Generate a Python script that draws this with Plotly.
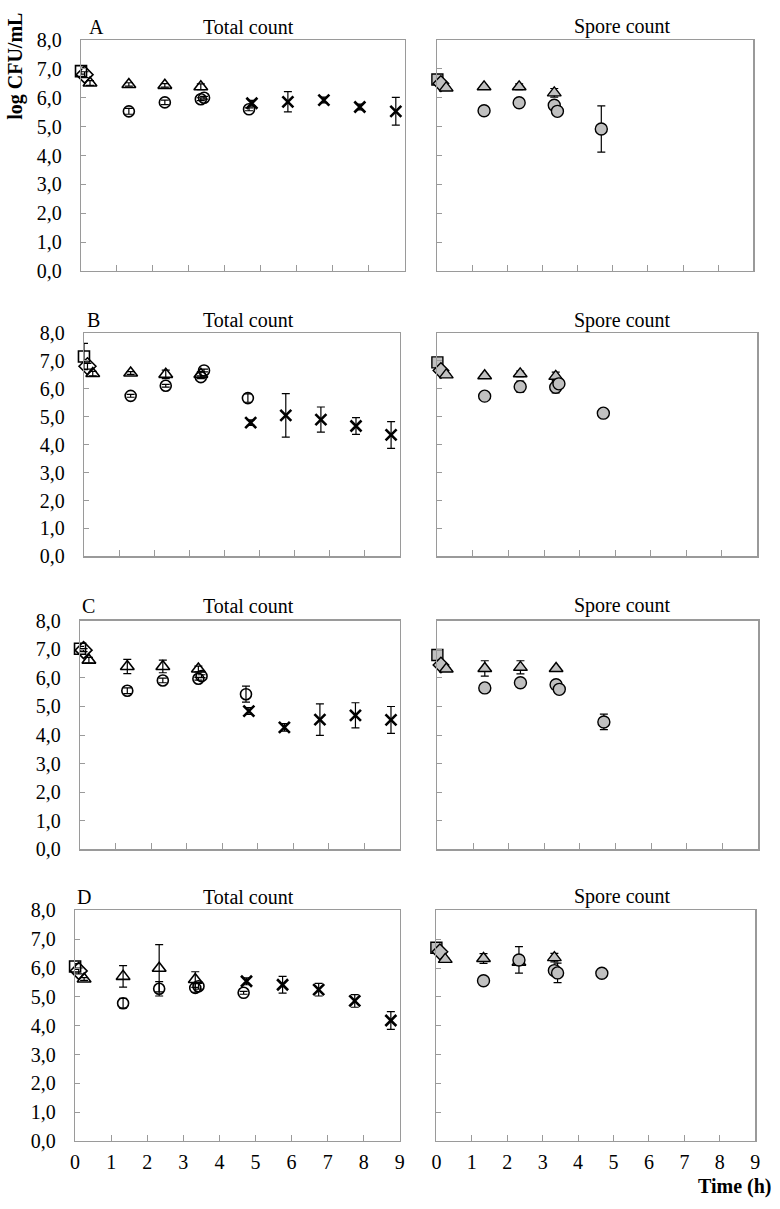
import plotly.graph_objects as go
from plotly.subplots import make_subplots

# ---------------- data ----------------
panels = ["A", "B", "C", "D"]

time_sq = [0.0]
time_di = [0.1]
time_tr = [0.25, 1.33, 2.33, 3.33]
time_ci = [1.33, 2.33, 3.33, 3.42, 4.67]
time_x = [4.75, 5.75, 6.75, 7.75, 8.75]

# Total count (open markers)
tot_sq = {"A": [6.92], "B": [7.16], "C": [7.02], "D": [6.05]}
tot_sq_err = {"A": [0.1], "B": [0.47], "C": [0.08], "D": [0.1]}
tot_di = {"A": [6.80], "B": [6.81], "C": [6.97], "D": [5.90]}
tot_di_err = {"A": [0.1], "B": [0.1], "C": [0.05], "D": [0.1]}
tot_tr = {"A": [6.51, 6.46, 6.43, 6.38], "B": [6.55, 6.57, 6.52, 6.52],
          "C": [6.62, 6.40, 6.40, 6.31], "D": [5.62, 5.71, 5.99, 5.60]}
tot_tr_err = {"A": [0.08, 0.06, 0.06, 0.1], "B": [0.08, 0.05, 0.15, 0.1],
              "C": [0.1, 0.25, 0.22, 0.1], "D": [0.05, 0.37, 0.82, 0.27]}
tot_ci = {"A": [5.53, 5.84, 5.95, 6.00, 5.60], "B": [5.75, 6.11, 6.42, 6.66, 5.67],
          "C": [5.55, 5.91, 5.97, 6.06, 5.43], "D": [4.78, 5.28, 5.31, 5.37, 5.14]}
tot_ci_err = {"A": [0.1, 0.08, 0.05, 0.05, 0.05], "B": [0.05, 0.05, 0.05, 0.05, 0.15],
              "C": [0.1, 0.08, 0.05, 0.05, 0.28], "D": [0.17, 0.25, 0.15, 0.1, 0.05]}
tot_x = {"A": [5.81, 5.86, 5.92, 5.68, 5.53], "B": [4.79, 5.05, 4.90, 4.67, 4.35],
         "C": [4.84, 4.27, 4.54, 4.69, 4.53], "D": [5.54, 5.42, 5.25, 4.86, 4.18]}
tot_x_err = {"A": [0.1, 0.35, 0.1, 0.1, 0.48], "B": [0.1, 0.78, 0.45, 0.3, 0.48],
             "C": [0.12, 0.13, 0.55, 0.44, 0.47], "D": [0.12, 0.29, 0.22, 0.22, 0.31]}

# Spore count (grey filled markers)
spo_sq = {"A": [6.63], "B": [6.95], "C": [6.80], "D": [6.70]}
spo_di = {"A": [6.49], "B": [6.66], "C": [6.45], "D": [6.56]}
spo_tr = {"A": [6.34, 6.38, 6.38, 6.17], "B": [6.50, 6.47, 6.54, 6.45],
          "C": [6.31, 6.33, 6.37, 6.33], "D": [6.30, 6.33, 6.20, 6.36]}
spo_tr_err = {"A": [0.05, 0.05, 0.1, 0.15], "B": [0.05, 0.05, 0.1, 0.15],
              "C": [0.05, 0.27, 0.23, 0.05], "D": [0.05, 0.17, 0.1, 0.15]}
spo_ci = {"A": [5.55, 5.83, 5.74, 5.53, 4.92], "B": [5.74, 6.08, 6.06, 6.18, 5.13],
          "C": [5.65, 5.83, 5.76, 5.60, 4.46], "D": [5.56, 6.28, 5.91, 5.83, 5.82]}
spo_ci_err = {"A": [0.05, 0.05, 0.05, 0.05, 0.8], "B": [0.05, 0.2, 0.2, 0.1, 0.05],
              "C": [0.05, 0.05, 0.05, 0.05, 0.27], "D": [0.05, 0.46, 0.05, 0.34, 0.05]}

y_ticks = [0, 1, 2, 3, 4, 5, 6, 7, 8]
y_tick_labels = ["0,0", "1,0", "2,0", "3,0", "4,0", "5,0", "6,0", "7,0", "8,0"]
x_ticks = [0, 1, 2, 3, 4, 5, 6, 7, 8, 9]

# ---------------- figure ----------------
W, H = 780, 1209
FONT = "Liberation Serif"
fig = make_subplots(rows=4, cols=2)

# pixel geometry of each panel: (left x0, x1), (right x0, x1), (top, bottom)
geom = [
    ((77, 405), (438, 758), (29.5, 265)),
    ((80, 400), (438, 762), (328, 555.5)),
    ((76, 400), (438, 763), (621, 854)),
    ((71, 400), (437, 760), (916, 1151)),
]
title_y = [16, 315, 606, 902]
letter_x = [93, 90, 85, 80]


def px_x(p):
    return p / W


def px_y(p):
    return 1 - p / H


def err(vals, show=True):
    return dict(type="data", array=vals, visible=show, color="black",
                thickness=1.2, width=4)


for i, p in enumerate(panels):
    row = i + 1
    common = dict(mode="markers", showlegend=False, cliponaxis=False, hoverinfo="skip")
    ol = dict(color="black", width=1.6)
    # --- total count (open markers)
    fig.add_trace(go.Scatter(x=time_sq, y=tot_sq[p], error_y=err(tot_sq_err[p]),
                             marker=dict(symbol="square-open", size=11, color="black", line=ol),
                             **common), row=row, col=1)
    fig.add_trace(go.Scatter(x=time_di, y=tot_di[p], error_y=err(tot_di_err[p]),
                             marker=dict(symbol="diamond-open", size=13, color="black", line=ol),
                             **common), row=row, col=1)
    fig.add_trace(go.Scatter(x=time_tr, y=tot_tr[p], error_y=err(tot_tr_err[p]),
                             marker=dict(symbol="triangle-up-open", size=12, color="black", line=ol),
                             **common), row=row, col=1)
    fig.add_trace(go.Scatter(x=time_ci, y=tot_ci[p], error_y=err(tot_ci_err[p]),
                             marker=dict(symbol="circle-open", size=11, color="black", line=ol),
                             **common), row=row, col=1)
    fig.add_trace(go.Scatter(x=time_x, y=tot_x[p], error_y=err(tot_x_err[p]),
                             marker=dict(symbol="x-thin", size=11, color="black",
                                         line=dict(color="black", width=2.6)),
                             **common), row=row, col=1)

    # --- spore count (grey filled markers)
    gl = dict(color="black", width=1.4)
    grey = "#c0c0c0"
    fig.add_trace(go.Scatter(x=time_sq, y=spo_sq[p],
                             marker=dict(symbol="square", size=11, color=grey, line=gl),
                             **common), row=row, col=2)
    fig.add_trace(go.Scatter(x=time_di, y=spo_di[p],
                             marker=dict(symbol="diamond", size=12, color=grey, line=gl),
                             **common), row=row, col=2)
    fig.add_trace(go.Scatter(x=time_tr, y=spo_tr[p], error_y=err(spo_tr_err[p]),
                             marker=dict(symbol="triangle-up", size=12, color=grey, line=gl),
                             **common), row=row, col=2)
    fig.add_trace(go.Scatter(x=time_ci, y=spo_ci[p], error_y=err(spo_ci_err[p]),
                             marker=dict(symbol="circle", size=12, color=grey, line=gl),
                             **common), row=row, col=2)

    (lx0, lx1), (rx0, rx1), (top, bot) = geom[i]
    ydom = [px_y(bot), px_y(top)]
    last = (i == 3)
    for n, (x0, x1), showy in [(2 * i + 1, (lx0, lx1), True), (2 * i + 2, (rx0, rx1), False)]:
        xa = "xaxis" if n == 1 else f"xaxis{n}"
        ya = "yaxis" if n == 1 else f"yaxis{n}"
        fig.layout[xa].update(domain=[px_x(x0), px_x(x1)], range=[0, 9],
                              tickvals=x_ticks, showticklabels=last,
                              ticks="inside", ticklen=6, tickcolor="#9a9a9a",
                              ticklabelstandoff=3,
                              showline=True, linecolor="#9a9a9a", linewidth=1.3, mirror=True,
                              showgrid=False, zeroline=False,
                              tickfont=dict(family=FONT, size=20, color="black"))
        fig.layout[ya].update(domain=ydom, range=[0, 8],
                              tickvals=y_ticks, ticktext=y_tick_labels, showticklabels=showy,
                              ticks="inside", ticklen=5, tickcolor="#9a9a9a",
                              ticklabelstandoff=14,
                              showline=True, linecolor="#9a9a9a", linewidth=1.3, mirror=True,
                              showgrid=False, zeroline=False,
                              tickfont=dict(family=FONT, size=20, color="black"))

    for txt, xx in [("Total count", 247), ("Spore count", 626), (p, letter_x[i])]:
        fig.add_annotation(text=txt, x=px_x(xx), y=px_y(title_y[i]), xref="paper", yref="paper",
                           showarrow=False, xanchor="center", yanchor="middle",
                           font=dict(family=FONT, size=20, color="black"))

fig.add_annotation(text="<b>log CFU/mL</b>", x=px_x(11), y=px_y(56), xref="paper", yref="paper",
                   showarrow=False, textangle=-90, xanchor="center", yanchor="middle",
                   font=dict(family=FONT, size=20, color="black"))
fig.add_annotation(text="<b>Time (h)</b>", x=px_x(779), y=px_y(1197), xref="paper", yref="paper",
                   showarrow=False, xanchor="right", yanchor="middle",
                   font=dict(family=FONT, size=20, color="black"))

fig.update_layout(width=W, height=H, margin=dict(l=0, r=0, t=0, b=0),
                  plot_bgcolor="white", paper_bgcolor="white", showlegend=False)

fig.write_html("out.html", config={"displayModeBar": False, "staticPlot": True},
               post_script="document.body.style.margin='0';document.body.style.overflow='hidden';")
